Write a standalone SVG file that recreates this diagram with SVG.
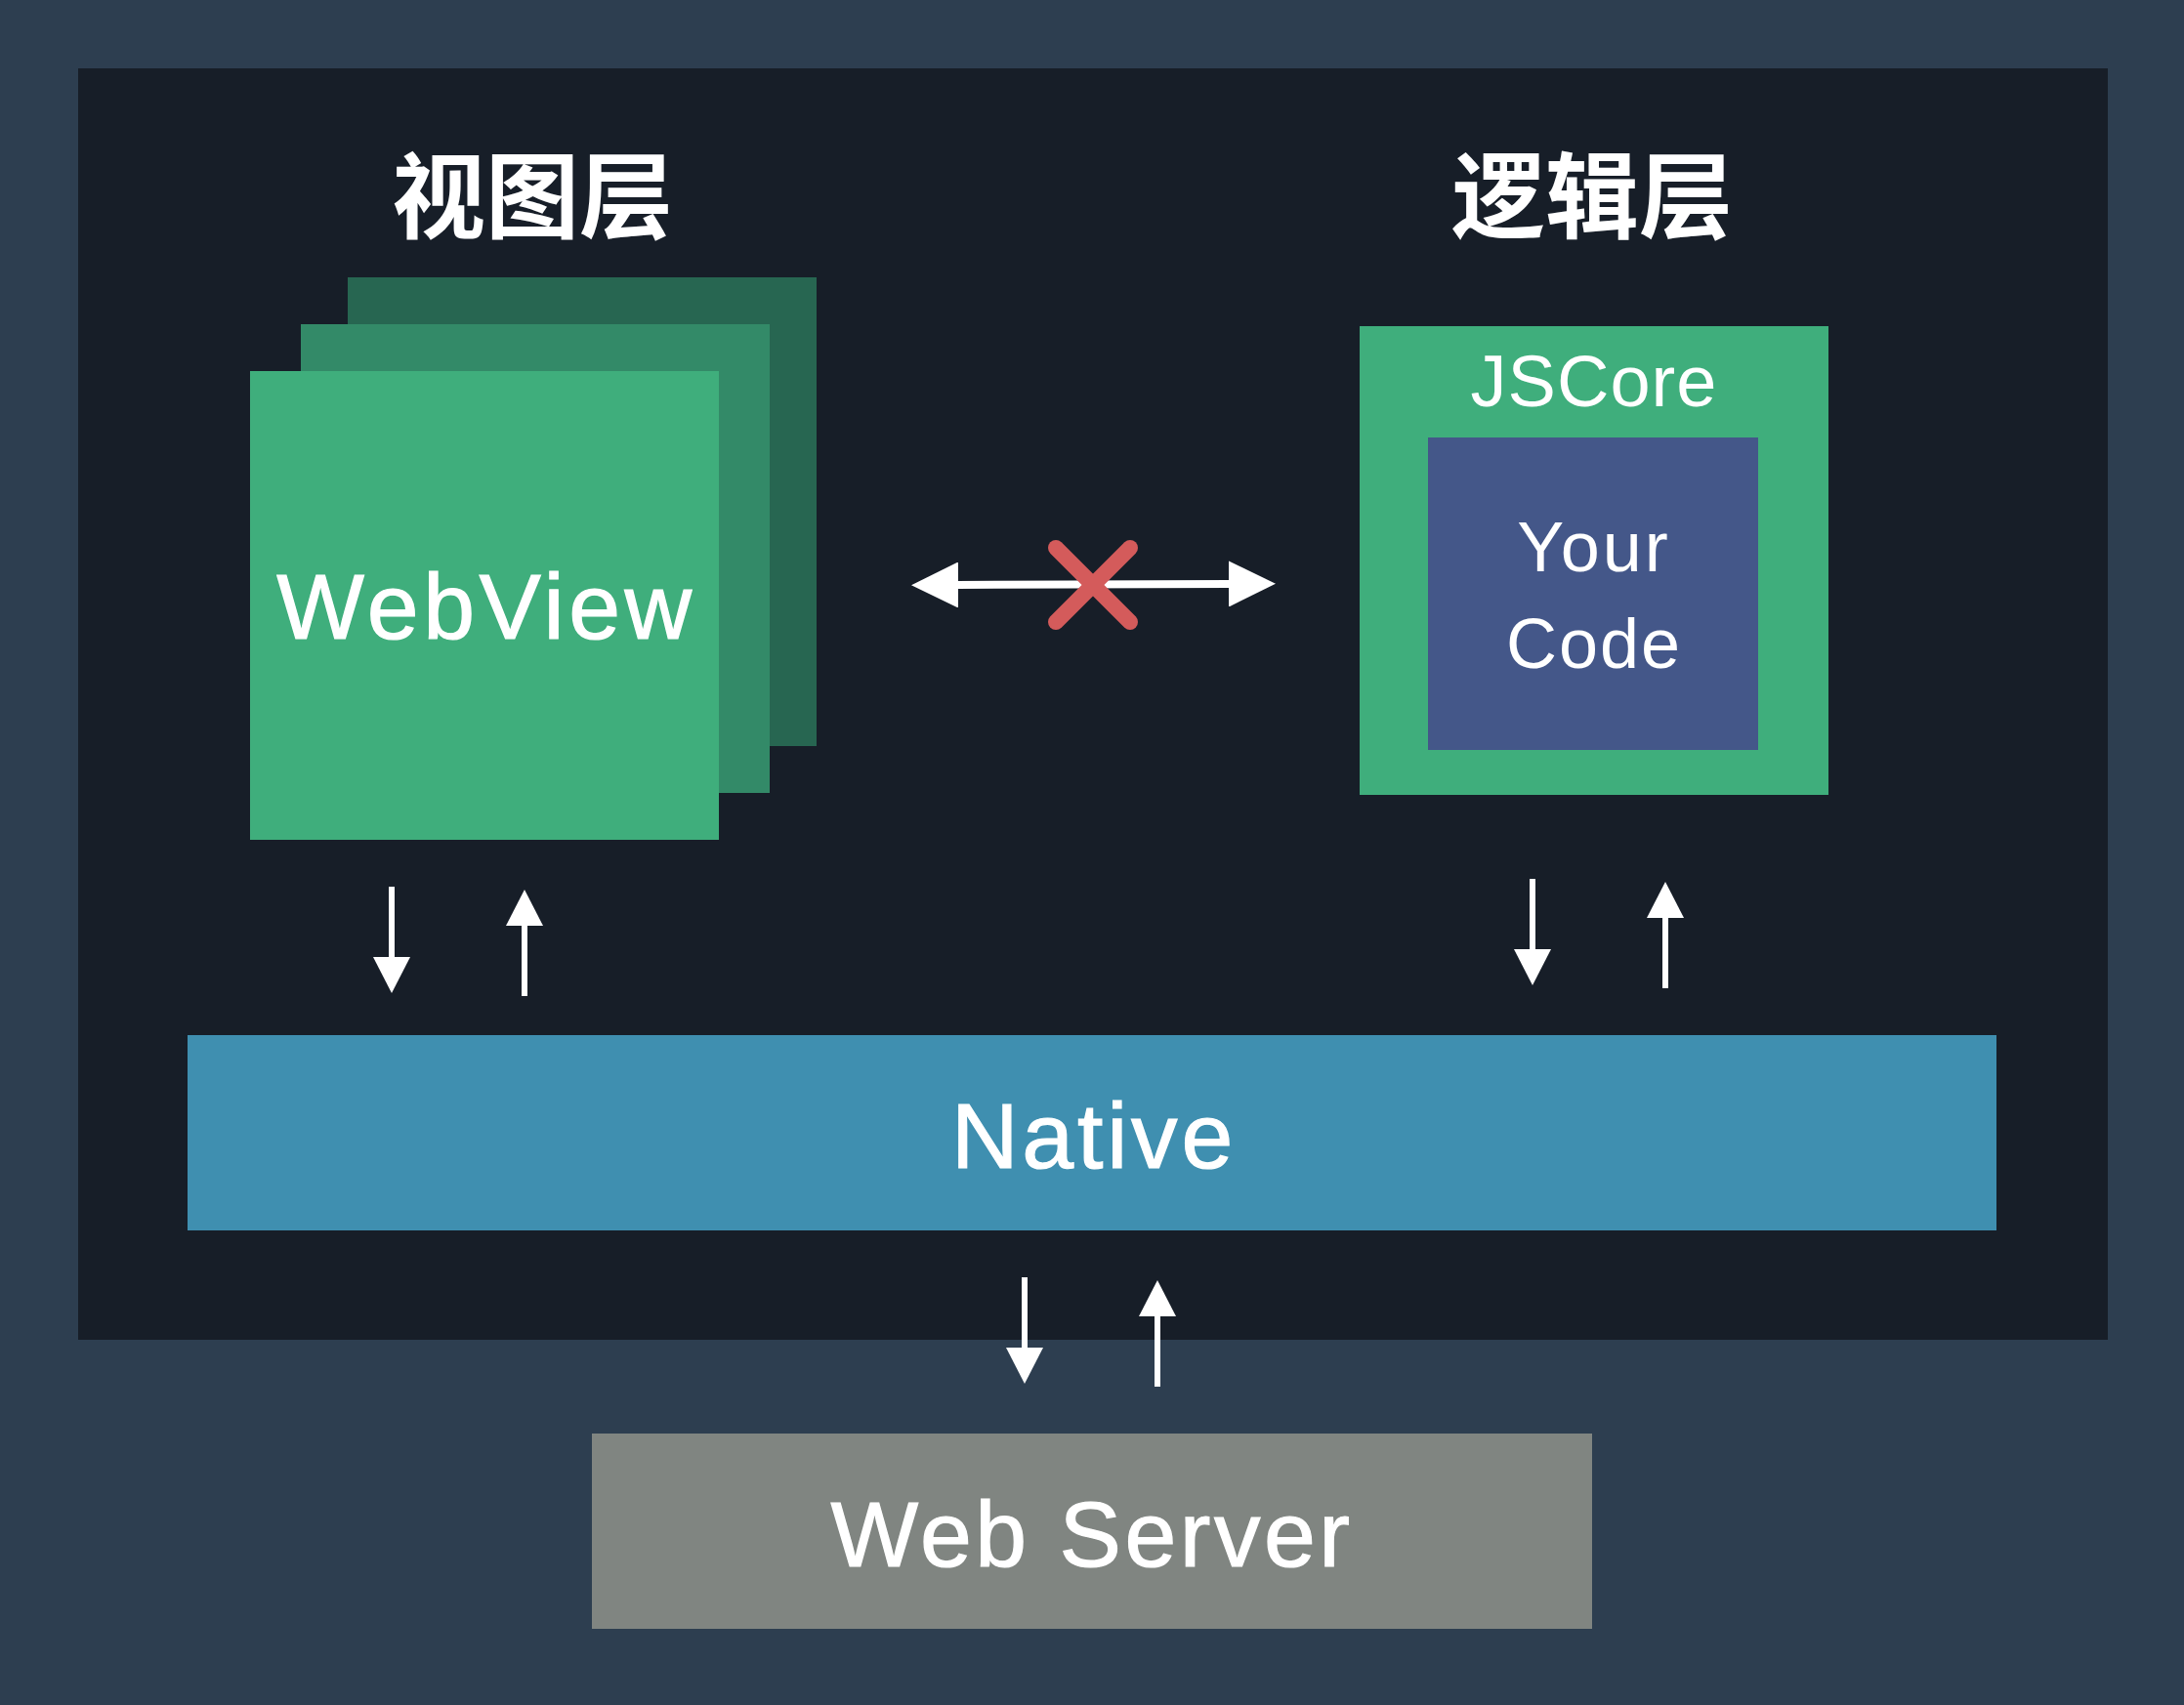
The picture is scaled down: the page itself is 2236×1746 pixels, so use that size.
<svg xmlns="http://www.w3.org/2000/svg" width="2236" height="1746" viewBox="0 0 2236 1746">
  <defs>
    <style>
      .lbl { font-family: "Liberation Sans", Arial, sans-serif; fill: #ffffff; text-anchor: middle; }
      .heavy { stroke: #ffffff; stroke-width: 1.2px; }
      .title { font-family: "Noto Sans CJK SC", "Noto Sans", sans-serif; font-weight: bold; font-size: 96px; fill: #ffffff; text-anchor: middle; }
      .conn { stroke: #ffffff; fill: none; }
    </style>
    <marker id="headV" markerUnits="userSpaceOnUse" viewBox="0 0 37 38" refX="0" refY="19" markerWidth="37" markerHeight="38" orient="auto-start-reverse">
      <path d="M0,0 L37,19 L0,38 Z" fill="#ffffff"/>
    </marker>
    <marker id="headH" markerUnits="userSpaceOnUse" viewBox="0 0 48 47" refX="0" refY="23.5" markerWidth="48" markerHeight="47" orient="auto-start-reverse">
      <path d="M0,0 L48,23.5 L0,47 Z" fill="#ffffff"/>
    </marker>
  </defs>

  <rect x="0" y="0" width="2236" height="1746" fill="#2d3e50"/>
  <rect x="80" y="70" width="2078" height="1302" fill="#171e28"/>

  <g id="title-view">
    <text class="title" x="545" y="236">视图层</text>
  </g>
  <g id="title-logic">
    <text class="title" x="1630" y="236">逻辑层</text>
  </g>

  <g id="webview">
    <rect x="356" y="284" width="480" height="480" fill="#276651"/>
    <rect x="308" y="332" width="480" height="480" fill="#338a68"/>
    <rect x="256" y="380" width="480" height="480" fill="#3fae7c"/>
    <text class="lbl heavy" x="498" y="654" font-size="95" letter-spacing="4.5">WebView</text>
  </g>

  <g id="jscore">
    <rect x="1392" y="334" width="480" height="480" fill="#3fae7c"/>
    <text class="lbl" x="1632" y="416" font-size="74" letter-spacing="1">JSCore</text>
  </g>

  <g id="yourcode">
    <rect x="1462" y="448" width="338" height="320" fill="#445789"/>
    <text class="lbl" x="1632" y="585" font-size="72" letter-spacing="3">Your</text>
    <text class="lbl" x="1632" y="684" font-size="72" letter-spacing="2">Code</text>
  </g>

  <g id="native">
    <rect x="192" y="1060" width="1852" height="200" fill="#3f8fb0"/>
    <text class="lbl heavy" x="1120" y="1196" font-size="95" letter-spacing="3.8">Native</text>
  </g>

  <g id="webserver">
    <rect x="606" y="1468" width="1024" height="200" fill="#808581"/>
    <text class="lbl heavy" x="1118" y="1604" font-size="95" letter-spacing="3.5">Web Server</text>
  </g>

  <g id="connectors">
    <line class="conn" x1="981" y1="599" x2="1258" y2="598" stroke-width="8" marker-start="url(#headH)" marker-end="url(#headH)"/>
    <g stroke="#d45b5b" stroke-width="16" stroke-linecap="round">
      <line x1="1081" y1="561" x2="1157" y2="637"/>
      <line x1="1157" y1="561" x2="1081" y2="637"/>
    </g>

    <line class="conn" x1="401" y1="908" x2="401" y2="980" stroke-width="6" marker-end="url(#headV)"/>
    <line class="conn" x1="537" y1="1020" x2="537" y2="948" stroke-width="6" marker-end="url(#headV)"/>

    <line class="conn" x1="1569" y1="900" x2="1569" y2="972" stroke-width="6" marker-end="url(#headV)"/>
    <line class="conn" x1="1705" y1="1012" x2="1705" y2="940" stroke-width="6" marker-end="url(#headV)"/>

    <line class="conn" x1="1049" y1="1308" x2="1049" y2="1380" stroke-width="6" marker-end="url(#headV)"/>
    <line class="conn" x1="1185" y1="1420" x2="1185" y2="1348" stroke-width="6" marker-end="url(#headV)"/>
  </g>
</svg>
